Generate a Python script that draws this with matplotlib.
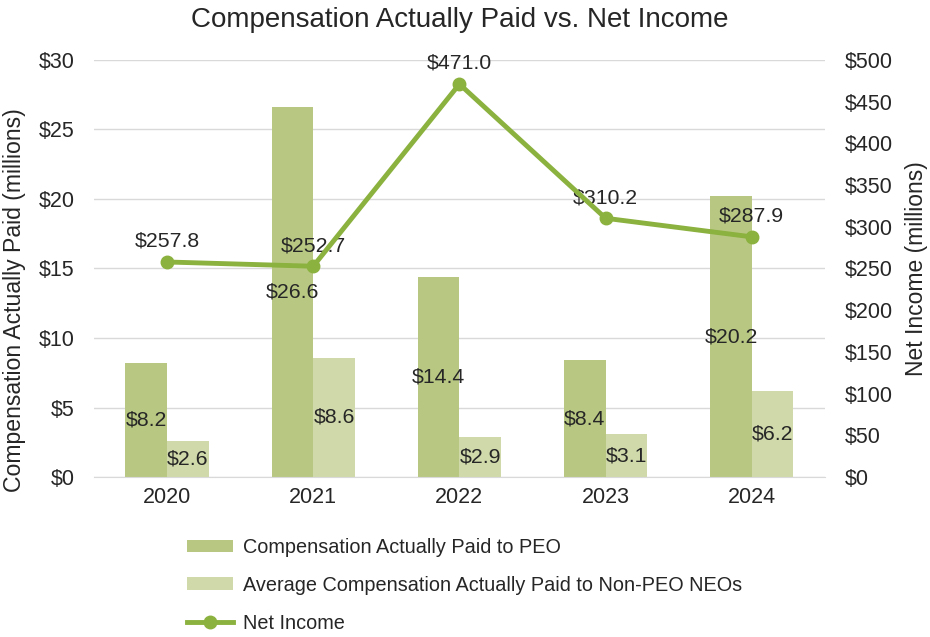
import matplotlib.pyplot as plt
import numpy as np

plt.rcParams.update({
    'font.family': ['Liberation Sans', 'DejaVu Sans'],
    'font.size': 12,
    'text.color': '#262626',
    'axes.labelcolor': '#262626',
    'xtick.color': '#262626',
    'ytick.color': '#262626',
})

years = ['2020', '2021', '2022', '2023', '2024']
peo_cap = [8.2, 26.6, 14.4, 8.4, 20.2]
neo_cap = [2.6, 8.6, 2.9, 3.1, 6.2]
net_income = [257.8, 252.7, 471.0, 310.2, 287.9]

peo_color = '#B8C883'
neo_color = '#CFD9A9'
line_color = '#8BB13E'

x = np.arange(len(years))
width = 0.285

fig = plt.figure(figsize=(9.3, 6.37), dpi=100)
ax = fig.add_axes([0.101, 0.251, 0.786, 0.655])
ax2 = ax.twinx()

bars1 = ax.bar(x - width / 2, peo_cap, width, color=peo_color,
               label='Compensation Actually Paid to PEO', zorder=2)
bars2 = ax.bar(x + width / 2, neo_cap, width, color=neo_color,
               label='Average Compensation Actually Paid to Non-PEO NEOs', zorder=2)

# labels in the middle of each bar
for bars, vals in [(bars1, peo_cap), (bars2, neo_cap)]:
    for b, v in zip(bars, vals):
        ax.text(b.get_x() + b.get_width() / 2, v / 2, f'${v:.1f}',
                ha='center', va='center', fontsize=15.3, zorder=3)

line, = ax2.plot(x, net_income, color=line_color, linewidth=3.5,
                 marker='o', markersize=9, label='Net Income', zorder=4)
for xi, v in zip(x, net_income):
    ax2.annotate(f'${v:.1f}', (xi, v), textcoords='offset points',
                 xytext=(0, 8), ha='center', va='bottom', fontsize=15.3)

ax.set_ylim(0, 30)
ax.set_yticks(np.arange(0, 31, 5))
ax.set_yticklabels([f'${v}' for v in range(0, 31, 5)])
ax2.set_ylim(0, 500)
ax2.set_yticks(np.arange(0, 501, 50))
ax2.set_yticklabels([f'${v}' for v in range(0, 501, 50)])
ax.set_xlim(-0.5, len(years) - 0.5)
ax.set_xticks(x)
ax.set_xticklabels(years)

ax.grid(True, axis='y', color='#D9D9D9', linewidth=1)
ax.set_axisbelow(True)
for a in (ax, ax2):
    for s in a.spines.values():
        s.set_visible(False)
    a.tick_params(length=0, labelsize=15.5)
ax.tick_params(axis='y', pad=14)
ax2.tick_params(axis='y', pad=14)
ax.tick_params(axis='x', pad=7)
ax.spines['bottom'].set_visible(True)
ax.spines['bottom'].set_color('#D9D9D9')

ax.set_ylabel('Compensation Actually Paid (millions)', fontsize=16.6)
ax.yaxis.set_label_coords(-0.093, 0.424)
ax2.set_ylabel('Net Income (millions)', fontsize=16.5, labelpad=9)
ax.set_title('Compensation Actually Paid vs. Net Income', fontsize=20, pad=24)

handles = [bars1, bars2, line]
labels = [h.get_label() for h in handles]
fig.legend(handles, labels, loc='upper left', bbox_to_anchor=(0.1925, 0.168),
           frameon=False, fontsize=14.3, handlelength=2.3, handleheight=0.6,
           labelspacing=0.95, borderaxespad=0, handletextpad=0.5)

fig.savefig('out.png', dpi=100)
